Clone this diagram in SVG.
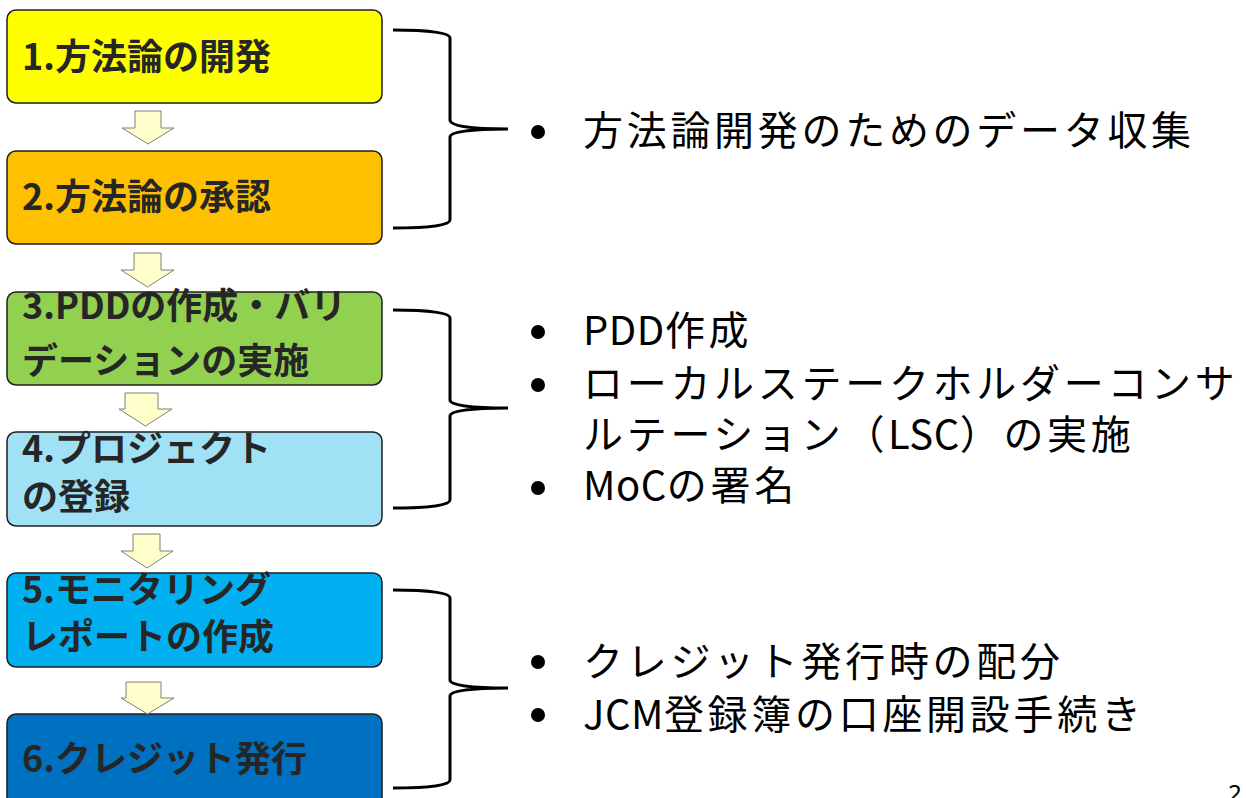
<svg xmlns="http://www.w3.org/2000/svg" width="1246" height="798" viewBox="0 0 1246 798">
<style>
.box{stroke:#1e1e1e;stroke-width:1.5}
.bt{font-family:"Noto Sans CJK JP","Noto Sans",sans-serif;font-weight:bold;font-size:36px;fill:#262626}
.arr{fill:#FFFFCC;stroke:#7f7f7f;stroke-width:1}
.brace{fill:none;stroke:#000;stroke-width:3}
.li{font-family:"Noto Sans CJK JP","Noto Sans",sans-serif;font-size:40px;letter-spacing:3.7px;fill:#000}
.lat{letter-spacing:0.5px}
.dot{fill:#000}
</style>
<rect width="1246" height="798" fill="#fff"/>
<g id="step1"><rect class="box" x="7" y="10" width="375" height="93" rx="9" fill="#FFFF00"/><text class="bt" x="22" y="70">1.方法論の開発</text></g>
<g id="step2"><rect class="box" x="7" y="151" width="375" height="93" rx="9" fill="#FFC000"/><text class="bt" x="22" y="210">2.方法論の承認</text></g>
<g id="step3"><rect class="box" x="7" y="292" width="375" height="93" rx="9" fill="#92D050"/><text class="bt" x="22" y="319">3.PDDの作成・バリ</text><text class="bt" x="22" y="374">デーションの実施</text></g>
<g id="step4"><rect class="box" x="7" y="432" width="375" height="94" rx="9" fill="#A0E1F5"/><text class="bt" x="22" y="462">4.プロジェクト</text><text class="bt" x="22" y="510">の登録</text></g>
<g id="step5"><rect class="box" x="7" y="573" width="375" height="94" rx="9" fill="#00B0F0"/><text class="bt" x="22" y="603">5.モニタリング</text><text class="bt" x="22" y="650">レポートの作成</text></g>
<g id="step6"><rect class="box" x="7" y="714" width="375" height="120" rx="9" fill="#0070C0"/><text class="bt" x="22" y="772">6.クレジット発行</text></g>
<g id="connectors">
<polygon class="arr" points="135,111 161,111 161,128 174,128 148,144 122,128 135,128"/>
<polygon class="arr" points="134,253 161,253 161,270 174,270 147.5,287 121,270 134,270"/>
<polygon class="arr" points="125,393 158,393 158,409 172,409 145.5,426 119,409 125,409"/>
<polygon class="arr" points="133,534 160,534 160,551 173,551 147,568 121,551 133,551"/>
<polygon class="arr" points="126,682 161,682 161,698 174,698 147.5,714 121,698 126,698"/>
<path class="brace" d="M393,30 C430,30 450,33 450,38 L450,120 C450,126 470,129 508,129 C470,129 450,132 450,137 L450,220 C450,225 430,228 393,228"/>
<path class="brace" d="M393,310 C430,310 450,313 450,318 L450,400 C450,405 470,408 508,408 C470,408 450,411 450,416 L450,500 C450,505 430,508 393,508"/>
<path class="brace" d="M393,590 C430,590 450,593 450,598 L450,680 C450,685 470,688 508,688 C470,688 450,691 450,696 L450,780 C450,785 430,788 393,788"/>
</g>
<g id="notes1"><circle class="dot" cx="538" cy="132" r="7"/><text class="li" x="583" y="145">方法論開発のためのデータ収集</text></g>
<g id="notes2">
<circle class="dot" cx="538" cy="332" r="7"/><text class="li" x="583" y="345"><tspan class="lat">PDD</tspan>作成</text>
<circle class="dot" cx="538" cy="385" r="7"/><text class="li" x="583" y="398">ローカルステークホルダーコンサ</text>
<text class="li" x="583" y="449">ルテーション（<tspan class="lat">LSC</tspan>）の実施</text>
<circle class="dot" cx="538" cy="488" r="7"/><text class="li" x="583" y="500"><tspan class="lat">MoC</tspan>の署名</text>
</g>
<g id="notes3">
<circle class="dot" cx="538" cy="662" r="7"/><text class="li" x="583" y="676">クレジット発行時の配分</text>
<circle class="dot" cx="538" cy="715" r="7"/><text class="li" x="583" y="729"><tspan class="lat">JCM</tspan>登録簿の口座開設手続き</text>
</g>
<text x="1228" y="802" font-family="Noto Sans, sans-serif" font-size="24" fill="#000">2</text>
</svg>
